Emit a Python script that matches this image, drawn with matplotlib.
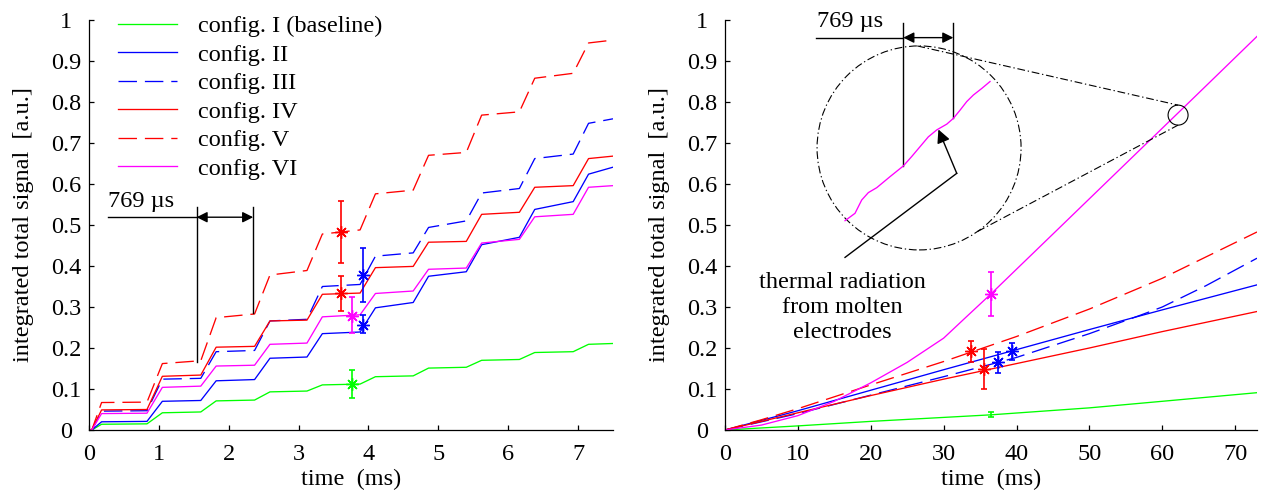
import numpy as np
import matplotlib
matplotlib.use("Agg")
import matplotlib.pyplot as plt
from matplotlib.patches import Ellipse

plt.rcParams['font.family'] = ['Liberation Serif', 'DejaVu Serif']
plt.rcParams['font.size'] = 17.5

# ---------------- data ----------------
series_labels = ["config. I (baseline)", "config. II", "config. III",
                 "config. IV", "config. V", "config. VI"]
series_colors = [(0, 1, 0), (0, 0, 1), (0, 0, 1), (1, 0, 0), (1, 0, 0), (1, 0, 1)]
series_dashed = [False, False, True, False, True, False]

# left panel: step (pulse) times in ms and plateau (start, end) levels
step_times = [0.12, 0.93, 1.70, 2.47, 3.22, 3.98, 4.74, 5.50, 6.26, 7.03]
plateaus_I = [(0.014, 0.015), (0.042, 0.044), (0.071, 0.073), (0.093, 0.095), (0.110, 0.112),
              (0.130, 0.132), (0.151, 0.153), (0.170, 0.172), (0.189, 0.191), (0.209, 0.211)]
plateaus_II = [(0.020, 0.021), (0.070, 0.072), (0.120, 0.123), (0.175, 0.178), (0.235, 0.239),
               (0.298, 0.311), (0.375, 0.386), (0.452, 0.470), (0.538, 0.557), (0.624, 0.641)]
plateaus_III = [(0.046, 0.047), (0.124, 0.126), (0.191, 0.194), (0.266, 0.270), (0.350, 0.355),
                (0.424, 0.432), (0.494, 0.510), (0.578, 0.589), (0.662, 0.673), (0.748, 0.759)]
plateaus_IV = [(0.049, 0.050), (0.131, 0.134), (0.202, 0.204), (0.266, 0.268), (0.331, 0.334),
               (0.396, 0.399), (0.458, 0.460), (0.526, 0.531), (0.592, 0.596), (0.662, 0.668)]
plateaus_V = [(0.067, 0.068), (0.162, 0.169), (0.274, 0.283), (0.378, 0.389), (0.478, 0.488),
              (0.576, 0.585), (0.670, 0.677), (0.768, 0.776), (0.858, 0.870), (0.944, 0.951)]
plateaus_VI = [(0.040, 0.041), (0.104, 0.107), (0.156, 0.158), (0.209, 0.212), (0.276, 0.281),
               (0.333, 0.339), (0.392, 0.395), (0.456, 0.465), (0.520, 0.526), (0.592, 0.596)]
left_plateaus = [plateaus_I, plateaus_II, plateaus_III, plateaus_IV, plateaus_V, plateaus_VI]

# left error bars
errL_x = [3.60, 3.60, 3.92, 3.92, 3.76, 3.76]
errL_y = [0.483, 0.333, 0.378, 0.257, 0.279, 0.111]
errL_lo = [0.407, 0.290, 0.311, 0.236, 0.236, 0.077]
errL_hi = [0.558, 0.375, 0.443, 0.280, 0.325, 0.146]
errL_c = [(1, 0, 0), (1, 0, 0), (0, 0, 1), (0, 0, 1), (1, 0, 1), (0, 1, 0)]
errL_star = [True, True, True, True, True, True]

# right panel: time (ms) and integrated signal
tR_I = [0, 10, 20, 36.5, 50, 60, 73]
yR_I = [0, 0.010, 0.021, 0.037, 0.054, 0.070, 0.091]
tR_II = [0, 10, 20, 30, 40, 50, 60, 73]
yR_II = [0, 0.047, 0.097, 0.147, 0.196, 0.245, 0.293, 0.354]
tR_III = [0, 10, 20, 30, 37.5, 40, 50, 57, 60, 66, 73]
yR_III = [0, 0.040, 0.085, 0.130, 0.165, 0.177, 0.235, 0.280, 0.300, 0.352, 0.419]
tR_IV = [0, 10, 20, 30, 40, 50, 60, 73]
yR_IV = [0, 0.042, 0.084, 0.124, 0.162, 0.200, 0.240, 0.289]
tR_V = [0, 5, 10, 20, 30, 40, 50, 60, 73]
yR_V = [0, 0.025, 0.052, 0.110, 0.167, 0.228, 0.295, 0.370, 0.483]
tR_VI = [0, 5, 10, 15, 20, 25, 30, 33, 36.5, 45, 55, 65, 73]
yR_VI = [0, 0.012, 0.035, 0.070, 0.115, 0.165, 0.224, 0.274, 0.332, 0.478, 0.650, 0.822, 0.960]
right_t = [tR_I, tR_II, tR_III, tR_IV, tR_V, tR_VI]
right_y = [yR_I, yR_II, yR_III, yR_IV, yR_V, yR_VI]

# right error bars
errR_x = [36.5, 33.8, 35.6, 37.5, 39.4, 36.5]
errR_y = [0.332, 0.193, 0.148, 0.165, 0.192, 0.037]
errR_lo = [0.278, 0.167, 0.099, 0.138, 0.171, 0.031]
errR_hi = [0.386, 0.216, 0.197, 0.191, 0.213, 0.044]
errR_c = [(1, 0, 1), (1, 0, 0), (1, 0, 0), (0, 0, 1), (0, 0, 1), (0, 1, 0)]
errR_star = [True, True, True, True, True, False]

# magnified detail of config. VI drawn inside the zoom circle (right-panel coords)
zoom_t = [16.47, 17.84, 18.76, 19.67, 20.82, 22.65, 24.47, 25.62, 26.76, 27.90,
          29.06, 30.43, 31.33, 32.25, 33.17, 34.08, 35.23, 36.37]
zoom_y = [0.5105, 0.5285, 0.561, 0.579, 0.591, 0.618, 0.644, 0.667, 0.691, 0.715,
          0.732, 0.746, 0.760, 0.780, 0.801, 0.817, 0.833, 0.850]

# ---------------- figure ----------------
W, H = 1261, 491
fig = plt.figure(figsize=(W / 100, H / 100), dpi=100)
axL = fig.add_axes([89 / W, 61 / H, 524 / W, 410 / H])
axR = fig.add_axes([725 / W, 61 / H, 532 / W, 410 / H])

LW = 0.95
DASH = (0, (14, 6))


def style(i):
    return dict(color=series_colors[i], lw=LW,
                ls=DASH if series_dashed[i] else '-')


def stair(times, plats, t_end):
    xs, ys = [0.0, 0.04], [0.0, 0.0]
    prev = 0.0
    for k, (c, (s, e)) in enumerate(zip(times, plats)):
        w0, w1 = (0.08, 0.06) if k == 0 else (0.10, 0.12)
        xs += [c - w0, c + w1]
        ys += [prev, s]
        nxt = times[k + 1] - 0.10 if k + 1 < len(times) else t_end
        xs.append(nxt)
        ys.append(e)
        prev = e
    return xs, ys


def format_axes(ax, xticks, xlim):
    ax.set_xlim(*xlim)
    ax.set_ylim(0, 1)
    ax.set_xticks(xticks)
    ax.set_yticks(np.arange(0, 1.01, 0.1))
    ax.set_yticklabels(["%g" % round(v, 1) for v in np.arange(0, 1.01, 0.1)])
    for s in ['top', 'right']:
        ax.spines[s].set_visible(False)
    for s in ['left', 'bottom']:
        ax.spines[s].set_linewidth(0.9)
    ax.tick_params(axis='both', direction='in', length=3.5, width=0.9)
    ax.tick_params(axis='x', pad=10)
    ax.tick_params(axis='y', pad=16.5)
    for lbl in ax.get_yticklabels():
        lbl.set_horizontalalignment('center')
    ax.set_xlabel('time  (ms)', labelpad=3)
    ax.set_ylabel('integrated total signal  [a.u.]', labelpad=12)


def errbars(ax, xs, ys, lo, hi, cs, stars):
    for x, y, l, h, c, st in zip(xs, ys, lo, hi, cs, stars):
        ax.errorbar([x], [y], yerr=[[y - l], [h - y]], fmt='none', ecolor=c,
                    elinewidth=1.2, capsize=2.2, capthick=1.2, zorder=4)
        if st:
            ax.plot([x], [y], marker=(8, 2, 0), ms=9, mew=1.0, color=c, zorder=5)


# ----- left panel -----
handles = []
for i, plats in enumerate(left_plateaus):
    xs, ys = stair(step_times, plats, 7.5)
    h, = axL.plot(xs, ys, **style(i))
    handles.append(h)
errbars(axL, errL_x, errL_y, errL_lo, errL_hi, errL_c, errL_star)
format_axes(axL, range(0, 8), (0, 7.5))

# 769 us marker (left)
axL.plot([1.54, 1.54], [0.167, 0.543], color='k', lw=1.0)
axL.plot([2.35, 2.35], [0.285, 0.543], color='k', lw=1.0)
axL.plot([0.27, 1.54], [0.519, 0.519], color='k', lw=1.0)
axL.annotate('', xy=(1.54, 0.519), xytext=(2.35, 0.519),
             arrowprops=dict(arrowstyle='<|-|>', color='k', lw=1.0,
                             mutation_scale=16, shrinkA=0, shrinkB=0))
axL.text(0.27, 0.557, '769 µs', ha='left', va='center')

leg = axL.legend(handles, series_labels, loc='upper left', bbox_to_anchor=(0.055, 1.012),
                 frameon=False, borderaxespad=0, borderpad=0, handlelength=2.45,
                 handletextpad=0.85, labelspacing=0.27)

# ----- right panel -----
for i in range(6):
    axR.plot(right_t[i], right_y[i], **style(i))
errbars(axR, errR_x, errR_y, errR_lo, errR_hi, errR_c, errR_star)
format_axes(axR, range(0, 71, 10), (0, 73))

# pixel scale of right axes for drawing circles
p0 = axR.transData.transform((0, 0))
p1 = axR.transData.transform((1, 1))
sx, sy = p1[0] - p0[0], p1[1] - p0[1]

DD = (0, (7, 2.5, 1.2, 2.5))
big_c, big_r = (26.63, 0.688), 102
small_c, small_r = (62.17, 0.768), 10
axR.add_patch(Ellipse(big_c, 2 * big_r / sx, 2 * big_r / sy, fill=False,
                      ec='k', lw=0.8, ls=DD, zorder=3))
axR.add_patch(Ellipse(small_c, 2 * small_r / sx, 2 * small_r / sy, fill=False,
                      ec='k', lw=0.8, zorder=3))


def on_circle(c, r, ang):
    a = np.deg2rad(ang)
    return c[0] + r * np.cos(a) / sx, c[1] + r * np.sin(a) / sy


for a_big, a_small in [(91, 90), (-55, -90)]:
    pa = on_circle(big_c, big_r, a_big)
    pb = on_circle(small_c, small_r, a_small)
    axR.plot([pa[0], pb[0]], [pa[1], pb[1]], color='k', lw=0.8, ls=DD, zorder=3)

axR.plot(zoom_t, zoom_y, color=(1, 0, 1), lw=LW, zorder=4)

# 769 us marker (right)
axR.plot([24.47, 24.47], [0.644, 0.9935], color='k', lw=1.0, clip_on=False)
axR.plot([31.33, 31.33], [0.760, 0.9935], color='k', lw=1.0, clip_on=False)
axR.plot([12.45, 24.47], [0.957, 0.957], color='k', lw=1.0)
axR.annotate('', xy=(24.47, 0.957), xytext=(31.33, 0.957),
             arrowprops=dict(arrowstyle='<|-|>', color='k', lw=1.0,
                             mutation_scale=16, shrinkA=0, shrinkB=0))
axR.text(12.6, 0.997, '769 µs', ha='left', va='center')

# thermal radiation arrow
axR.plot([16.47, 31.8], [0.421, 0.626], color='k', lw=1.0)
axR.annotate('', xy=(29.28, 0.733), xytext=(31.8, 0.626),
             arrowprops=dict(arrowstyle='-|>', color='k', lw=1.0,
                             mutation_scale=20, shrinkA=0, shrinkB=0))
axR.text(16.06, 0.298, 'thermal radiation\nfrom molten\nelectrodes',
         ha='center', va='center', linespacing=1.25)

fig.savefig('out.png', dpi=100)
